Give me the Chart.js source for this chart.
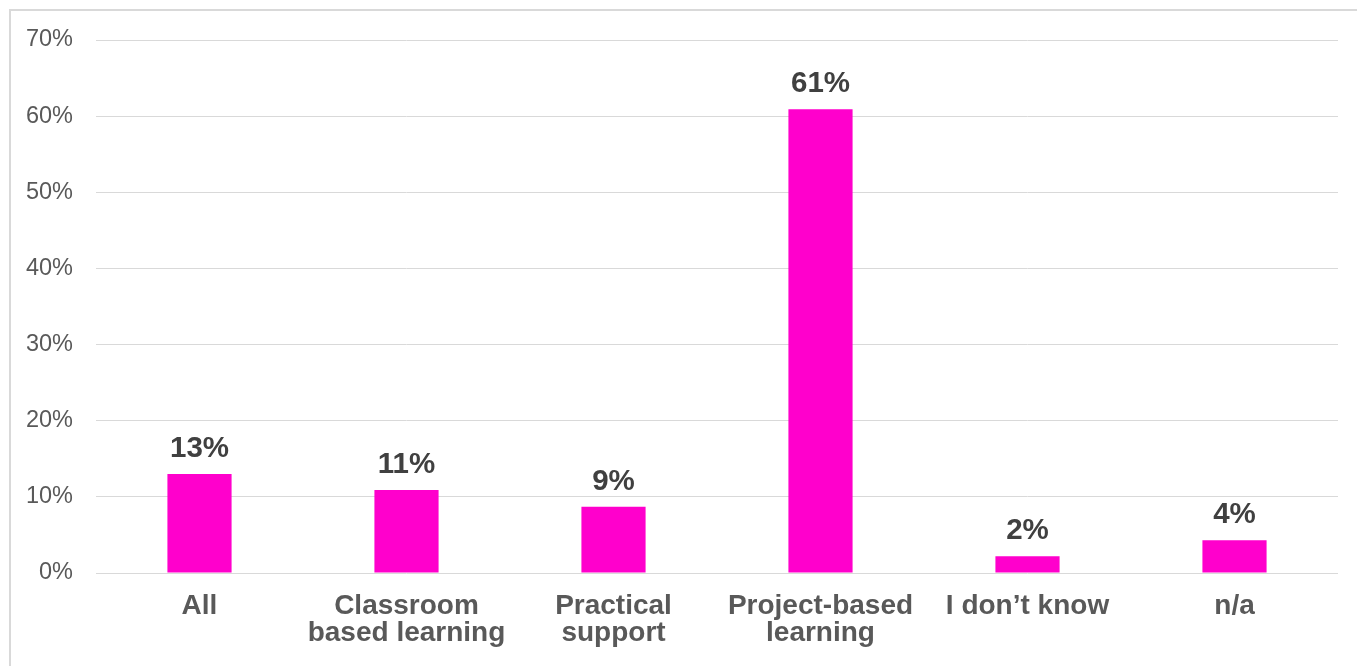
<!DOCTYPE html>
<html>
<head>
<meta charset="utf-8">
<script src="https://cdn.jsdelivr.net/npm/chart.js@4"></script>
<style>
  body { margin: 0; background: #fff; overflow: hidden; }
  #frame { position: absolute; left: 9px; top: 9px; width: 1400px; height: 700px; border: 2px solid #d9d9d9; box-sizing: border-box; }
  #wrap { position: absolute; left: 0; top: 0; width: 1357px; height: 666px; }
</style>
</head>
<body>
<div id="frame"></div>
<div id="wrap"><canvas id="bars" width="1357" height="666"></canvas></div>
<script>
categories = ['All', ['Classroom', 'based learning'], ['Practical', 'support'], ['Project-based', 'learning'], 'I don\u2019t know', 'n/a']
values = [13.0, 10.9, 8.7, 60.9, 2.2, 4.3]
tickLabels = ['0%', '10%', '20%', '30%', '40%', '50%', '60%', '70%']

var FONT = '"Liberation Sans", Arial, sans-serif';

// labels above bars
var valueLabels = {
    id: 'valueLabels',
    afterDatasetsDraw(chart) {
        var ctx = chart.ctx;
        var meta = chart.getDatasetMeta(0);
        ctx.save();
        ctx.font = 'bold 29.5px ' + FONT;
        ctx.fillStyle = '#404040';
        ctx.textAlign = 'center';
        ctx.textBaseline = 'alphabetic';
        meta.data.forEach((bar, i) => {
            ctx.fillText(Math.round(values[i]) + '%', bar.x, bar.y - 17);
        });
        ctx.restore();
    }
};

var ctx = document.getElementById('bars').getContext('2d');
new Chart(ctx, {
    type: 'bar',
    data: {
        labels: categories,
        datasets: [{
            data: values,
            backgroundColor: '#ff00cc',
            borderWidth: 0,
            categoryPercentage: 1,
            barPercentage: 0.31
        }]
    },
    options: {
        responsive: false,
        animation: false,
        layout: { padding: { left: 0, right: 19, top: 40, bottom: 0 } },
        plugins: { legend: { display: false }, tooltip: { enabled: false } },
        scales: {
            x: {
                grid: { display: false, drawTicks: false },
                border: { display: false },
                ticks: {
                    color: '#595959',
                    font: { family: FONT, size: 28, weight: 'bold', lineHeight: '27px' },
                    padding: 20,
                    maxRotation: 0,
                    autoSkip: false
                },
                afterFit(scale) { scale.height = 93; }
            },
            y: {
                min: 0,
                max: 70,
                grid: { color: '#d9d9d9', lineWidth: 1, drawTicks: false },
                border: { display: false },
                ticks: {
                    stepSize: 10,
                    color: '#595959',
                    font: { family: FONT, size: 23.5 },
                    padding: 23,
                    callback: (v) => tickLabels[Math.round(v / 10)]
                },
                afterFit(scale) { scale.width = 96; }
            }
        }
    },
    plugins: [valueLabels]
});
</script>
</body>
</html>
